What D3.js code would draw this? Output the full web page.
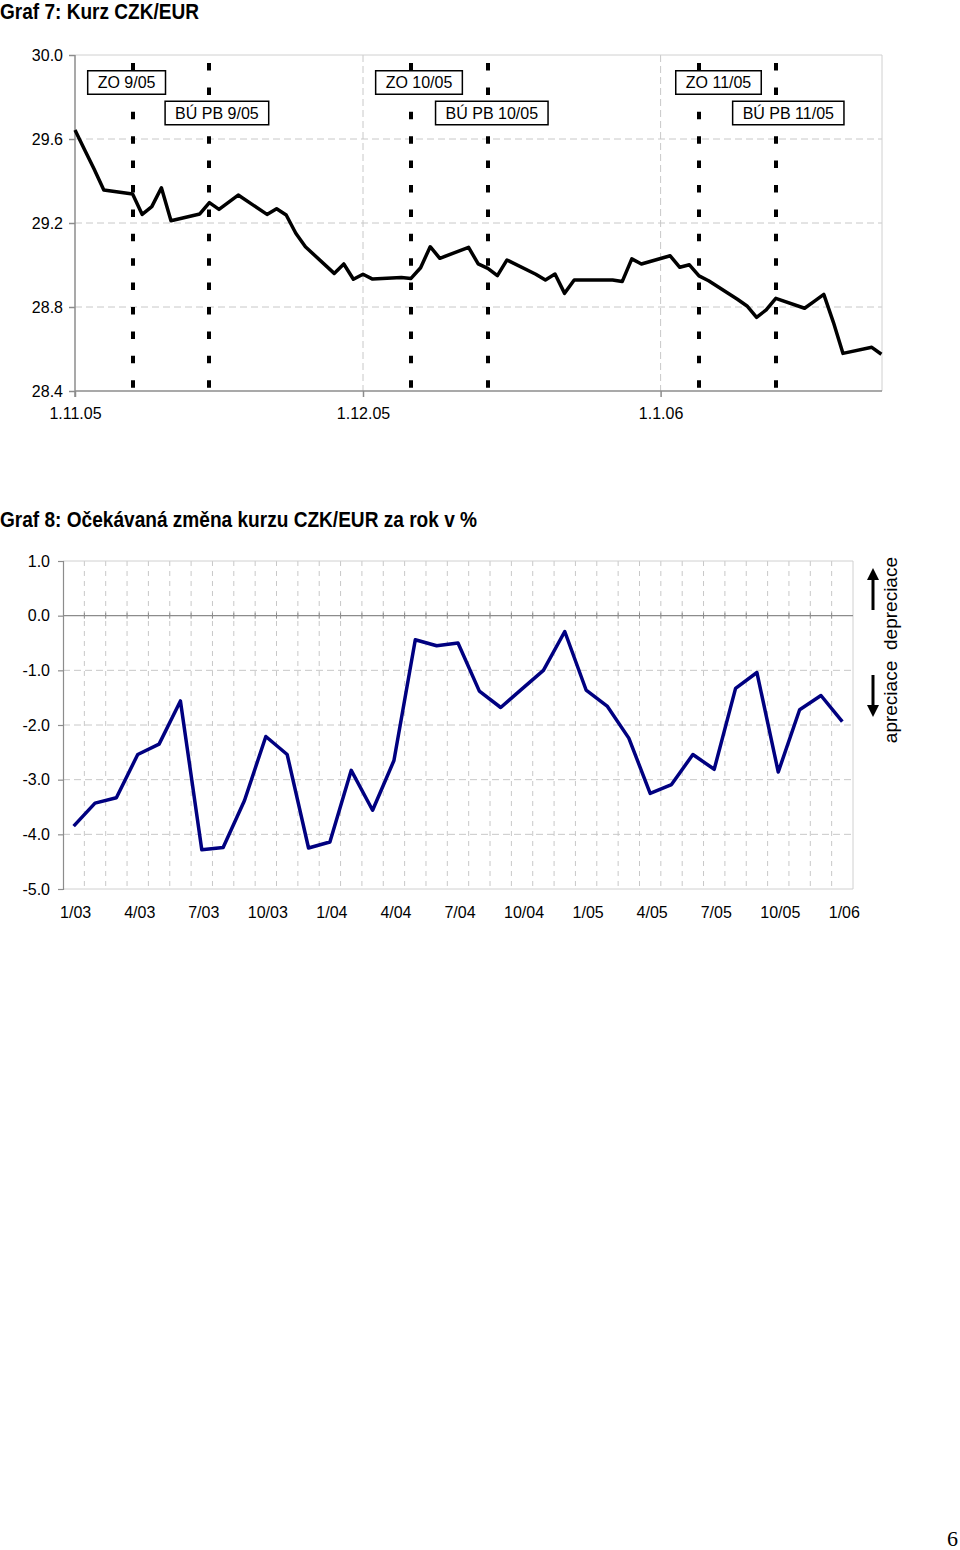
<!DOCTYPE html>
<html>
<head>
<meta charset="UTF-8" />
<title>Graf 7 a Graf 8</title>
<script src="https://d3js.org/d3.v7.min.js"></script>
<style>
  body { margin: 0; background: #fff; }
  svg text { font-family: "Liberation Sans", Arial, sans-serif; fill: #000; }
  svg .title { font-family: "Liberation Sans Narrow", "Arial Narrow", "Liberation Sans", sans-serif; font-weight: bold; }
</style>
</head>
<body>
<div id="main"></div>
<script type="text/javascript">

// ---- Graf 7: Kurz CZK/EUR (denni fixing) ----
const kurzDates = [
  "2005-11-01","2005-11-02","2005-11-03","2005-11-04","2005-11-07","2005-11-08","2005-11-09","2005-11-10","2005-11-11",
  "2005-11-14","2005-11-15","2005-11-16","2005-11-18","2005-11-21","2005-11-22","2005-11-23","2005-11-24","2005-11-25",
  "2005-11-28","2005-11-29","2005-11-30","2005-12-01","2005-12-02","2005-12-05","2005-12-06","2005-12-07","2005-12-08",
  "2005-12-09","2005-12-12","2005-12-13","2005-12-14","2005-12-15","2005-12-16","2005-12-19","2005-12-20","2005-12-21",
  "2005-12-22","2005-12-23","2005-12-27","2005-12-28","2005-12-29","2005-12-30","2006-01-02","2006-01-03","2006-01-04",
  "2006-01-05","2006-01-06","2006-01-09","2006-01-10","2006-01-11","2006-01-12","2006-01-13","2006-01-16","2006-01-17",
  "2006-01-18","2006-01-19","2006-01-20","2006-01-23","2006-01-24"
]
const kurzValues = [
  29.643, 29.549, 29.456, 29.357, 29.338, 29.241, 29.278, 29.368, 29.211,
  29.243, 29.297, 29.265, 29.333, 29.241, 29.268, 29.238, 29.151, 29.087,
  28.960, 29.005, 28.932, 28.956, 28.933, 28.941, 28.936, 28.987, 29.087,
  29.032, 29.084, 29.005, 28.984, 28.949, 29.024, 28.956, 28.929, 28.957,
  28.865, 28.929, 28.929, 28.921, 29.029, 29.005, 29.044, 28.989, 29.001,
  28.948, 28.925, 28.837, 28.805, 28.751, 28.786, 28.841, 28.794, 28.827,
  28.860, 28.727, 28.579, 28.608, 28.575
]
const eventDates = ["2005-11-07","2005-11-15","2005-12-06","2005-12-14","2006-01-05","2006-01-13"]
const eventLabels = ["ZO 9/05","BÚ PB 9/05","ZO 10/05","BÚ PB 10/05","ZO 11/05","BÚ PB 11/05"]
const kurzTicks = [28.4, 28.8, 29.2, 29.6, 30.0]
const monthDates = ["2005-11-01","2005-12-01","2006-01-01"]
const monthLabels = ["1.11.05","1.12.05","1.1.06"]

// ---- Graf 8: Ocekavana zmena kurzu CZK/EUR za rok v % ----
const months = [
  "1/03","2/03","3/03","4/03","5/03","6/03","7/03","8/03","9/03","10/03","11/03","12/03",
  "1/04","2/04","3/04","4/04","5/04","6/04","7/04","8/04","9/04","10/04","11/04","12/04",
  "1/05","2/05","3/05","4/05","5/05","6/05","7/05","8/05","9/05","10/05","11/05","12/05",
  "1/06"
]
const expectedChange = [
  -3.85, -3.43, -3.33, -2.54, -2.35, -1.56, -4.28, -4.24, -3.38, -2.21, -2.54, -4.25,
  -4.14, -2.83, -3.56, -2.65, -0.44, -0.55, -0.50, -1.38, -1.68, -1.34, -1.00, -0.29,
  -1.36, -1.66, -2.24, -3.25, -3.09, -2.54, -2.81, -1.33, -1.04, -2.86, -1.72, -1.46,
  -1.94
]
const monthTickLabels = ["1/03","4/03","7/03","10/03","1/04","4/04","7/04","10/04","1/05","4/05","7/05","10/05","1/06"]
const changeTicks = [1, 0, -1, -2, -3, -4, -5]

const W = 960, H = 1550
const gridColor = "#c8c8c8"
const axisColor = "#8c8c8c"
const parse = d3.utcParse("%Y-%m-%d")

const svg = d3.select("#main").append("svg")
  .attr("width", W)
  .attr("height", H)
  .style("display", "block")

svg.append("rect").attr("width", W).attr("height", H).attr("fill", "#fff")

// ================= Graf 7 =================
svg.append("text").attr("class", "title")
  .attr("x", 0).attr("y", 19)
  .attr("textLength", 199).attr("lengthAdjust", "spacingAndGlyphs")
  .style("font-size", "22px")
  .text("Graf 7: Kurz CZK/EUR")

const p1 = { left: 75, top: 55, right: 882, bottom: 391 }

const x1 = d3.scaleUtc()
  .domain([parse("2005-11-01"), parse("2006-01-24")])
  .range([p1.left, p1.left + 84 * 9.6])

const y1 = d3.scaleLinear()
  .domain([28.4, 30.0])
  .range([p1.bottom, p1.top])

const g1 = svg.append("g")

// horizontal grid
g1.selectAll(".hgrid").data(kurzTicks.filter(t => t > 28.4 && t < 30))
  .enter().append("line")
  .attr("x1", p1.left).attr("x2", p1.right)
  .attr("y1", d => y1(d)).attr("y2", d => y1(d))
  .attr("stroke", gridColor).attr("stroke-width", 1)
  .attr("stroke-dasharray", "7,4")

// vertical grid at month starts
g1.selectAll(".vgrid").data(monthDates.slice(1))
  .enter().append("line")
  .attr("x1", d => x1(parse(d))).attr("x2", d => x1(parse(d)))
  .attr("y1", p1.top).attr("y2", p1.bottom)
  .attr("stroke", gridColor).attr("stroke-width", 1)
  .attr("stroke-dasharray", "7,4")

// frame top / right
g1.append("path")
  .attr("d", `M${p1.left},${p1.top}H${p1.right}V${p1.bottom}`)
  .attr("fill", "none").attr("stroke", "#d0d0d0").attr("stroke-width", 1)

// axes
const yAxis1 = d3.axisLeft(y1).tickValues(kurzTicks).tickFormat(d3.format(".1f")).tickSize(6).tickPadding(6)
const ya1 = g1.append("g").attr("transform", `translate(${p1.left},0)`).call(yAxis1)
const xAxis1 = d3.axisBottom(x1).tickValues(monthDates.map(parse))
  .tickFormat((d, i) => monthLabels[i]).tickSize(6).tickPadding(11)
const xa1 = g1.append("g").attr("transform", `translate(0,${p1.bottom})`).call(xAxis1)

;[ya1, xa1].forEach(a => {
  a.select(".domain").attr("stroke", axisColor).attr("stroke-width", 1.5)
  a.selectAll(".tick line").attr("stroke", axisColor).attr("stroke-width", 1.5)
  a.selectAll("text").style("font-size", "16px").attr("font-family", "Liberation Sans, Arial, sans-serif")
})
xa1.select(".domain").attr("d", `M${p1.left},0H${p1.right}`)
ya1.select(".domain").attr("d", `M0,${p1.top}V${p1.bottom + 6}`)

// event markers (thick dashed lines)
g1.selectAll(".event").data(eventDates)
  .enter().append("line")
  .attr("x1", d => Math.round(x1(parse(d)))).attr("x2", d => Math.round(x1(parse(d))))
  .attr("y1", 63).attr("y2", 389)
  .attr("stroke", "#000").attr("stroke-width", 4)
  .attr("stroke-dasharray", "7.5,16.9")

// series line
const kurz = kurzDates.map((d, i) => ({ date: parse(d), v: kurzValues[i] }))
g1.append("path")
  .datum(kurz)
  .attr("fill", "none")
  .attr("stroke", "#000")
  .attr("stroke-width", 3.5)
  .attr("stroke-linejoin", "round")
  .attr("d", d3.line().x(d => x1(d.date)).y(d => y1(d.v)))

// label boxes (ZO row above, BU PB row below)
const labelShift = [-6, 7.5, 8, 4, 19.5, 12.5]
const labels = g1.selectAll(".evlabel").data(eventLabels)
  .enter().append("g")
  .attr("transform", (d, i) => {
    const cx = x1(parse(eventDates[i])) + labelShift[i]
    const cy = i % 2 === 0 ? 82.5 : 113
    return `translate(${cx},${cy})`
  })
labels.append("rect").attr("class", "box")
labels.append("text")
  .attr("text-anchor", "middle")
  .attr("y", 5.8)
  .style("font-size", "16px")
  .text(d => d)
labels.each(function () {
  const g = d3.select(this)
  const w = g.select("text").node().getComputedTextLength() + 20
  g.select("rect")
    .attr("x", -w / 2).attr("y", -11.75)
    .attr("width", w).attr("height", 23.5)
    .attr("fill", "#fff").attr("stroke", "#000").attr("stroke-width", 1.5)
})

// ================= Graf 8 =================
svg.append("text").attr("class", "title")
  .attr("x", 0).attr("y", 527)
  .attr("textLength", 477).attr("lengthAdjust", "spacingAndGlyphs")
  .style("font-size", "22px")
  .text("Graf 8: Očekávaná změna kurzu CZK/EUR za rok v %")

const p2 = { left: 63, top: 561, right: 853, bottom: 889 }

const x2 = d3.scaleBand()
  .domain(months)
  .range([p2.left, p2.right])
  .padding(0)

const y2 = d3.scaleLinear()
  .domain([-5, 1])
  .range([p2.bottom, p2.top])

const g2 = svg.append("g")

// vertical grid between categories
g2.selectAll(".vgrid").data(months.slice(1))
  .enter().append("line")
  .attr("x1", d => x2(d)).attr("x2", d => x2(d))
  .attr("y1", p2.top).attr("y2", p2.bottom)
  .attr("stroke", gridColor).attr("stroke-width", 1)
  .attr("stroke-dasharray", "5,5")

// horizontal grid
g2.selectAll(".hgrid").data(changeTicks.filter(t => t < 1 && t > -5 && t !== 0))
  .enter().append("line")
  .attr("x1", p2.left).attr("x2", p2.right)
  .attr("y1", d => y2(d)).attr("y2", d => y2(d))
  .attr("stroke", gridColor).attr("stroke-width", 1)
  .attr("stroke-dasharray", "7,4")

// frame top / right / bottom
g2.append("path")
  .attr("d", `M${p2.left},${p2.top}H${p2.right}V${p2.bottom}H${p2.left}`)
  .attr("fill", "none").attr("stroke", "#d0d0d0").attr("stroke-width", 1)

// zero axis with category ticks
g2.append("line")
  .attr("x1", p2.left).attr("x2", p2.right)
  .attr("y1", y2(0)).attr("y2", y2(0))
  .attr("stroke", axisColor).attr("stroke-width", 1.2)
g2.selectAll(".ztick").data(months.slice(1))
  .enter().append("line")
  .attr("x1", d => x2(d)).attr("x2", d => x2(d))
  .attr("y1", y2(0) - 3).attr("y2", y2(0) + 3)
  .attr("stroke", axisColor).attr("stroke-width", 1)

// y axis
const yAxis2 = d3.axisLeft(y2).tickValues(changeTicks).tickFormat(d3.format(".1f")).tickSize(5).tickPadding(8)
const ya2 = g2.append("g").attr("transform", `translate(${p2.left},0)`).call(yAxis2)
ya2.select(".domain").attr("stroke", axisColor).attr("stroke-width", 1.2)
ya2.selectAll(".tick line").attr("stroke", axisColor).attr("stroke-width", 1.2)
ya2.selectAll("text").style("font-size", "16px").text(d => d3.format(".1f")(d).replace("−", "-"))

// x labels (every third month)
g2.selectAll(".xlabel").data(monthTickLabels)
  .enter().append("text")
  .attr("x", d => x2(d) + x2.bandwidth() / 2 + 2)
  .attr("y", 918)
  .attr("text-anchor", "middle")
  .style("font-size", "16px")
  .text(d => d)

// series line
g2.append("path")
  .datum(expectedChange.map((v, i) => ({ m: months[i], v })))
  .attr("fill", "none")
  .attr("stroke", "#000080")
  .attr("stroke-width", 3.5)
  .attr("stroke-linejoin", "round")
  .attr("d", d3.line().x(d => x2(d.m) + x2.bandwidth() / 2).y(d => y2(d.v)))

// depreciace / apreciace annotation
const ann = svg.append("g")
svg.append("defs").append("marker")
  .attr("id", "arrowhead")
  .attr("viewBox", "0 0 10 10")
  .attr("refX", 5).attr("refY", 5)
  .attr("markerUnits", "userSpaceOnUse")
  .attr("markerWidth", 12).attr("markerHeight", 14)
  .attr("orient", "auto")
  .append("path").attr("d", "M0,0L10,5L0,10Z").attr("fill", "#000")
ann.append("line")
  .attr("x1", 873).attr("x2", 873).attr("y1", 610).attr("y2", 574)
  .attr("stroke", "#000").attr("stroke-width", 3)
  .attr("marker-end", "url(#arrowhead)")
ann.append("line")
  .attr("x1", 873).attr("x2", 873).attr("y1", 675).attr("y2", 711)
  .attr("stroke", "#000").attr("stroke-width", 3)
  .attr("marker-end", "url(#arrowhead)")
ann.append("text")
  .attr("transform", "translate(897,603.5) rotate(-90)")
  .attr("text-anchor", "middle")
  .style("font-size", "19px")
  .text("depreciace")
ann.append("text")
  .attr("transform", "translate(897,702) rotate(-90)")
  .attr("text-anchor", "middle")
  .style("font-size", "19px")
  .text("apreciace")

// page number
svg.append("text")
  .attr("x", 958).attr("y", 1546)
  .attr("text-anchor", "end")
  .style("font-family", "Liberation Serif, Times New Roman, serif")
  .style("font-size", "22px")
  .text("6")

</script>
</body>
</html>
